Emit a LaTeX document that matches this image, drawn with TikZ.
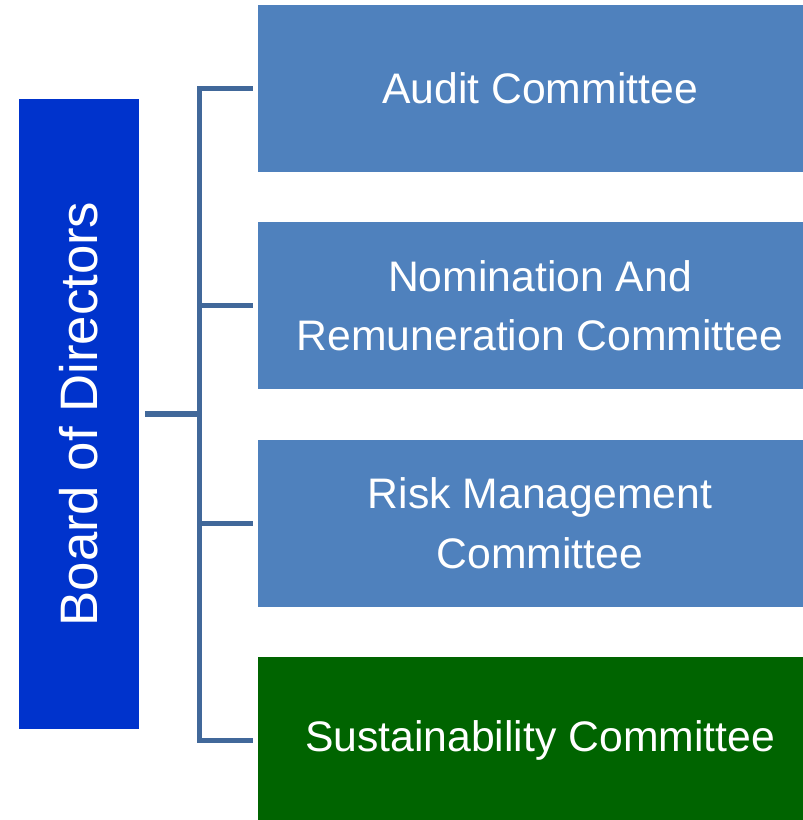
\documentclass[tikz,border=0pt]{standalone}
\usepackage{fontspec}
\setmainfont{Liberation Sans}
\usepackage{xcolor}
\usetikzlibrary{positioning, calc}
\definecolor{boardblue}{HTML}{0033CC}
\definecolor{commblue}{HTML}{4F81BD}
\definecolor{commgreen}{HTML}{006400}
\definecolor{linkblue}{HTML}{41689A}
\tikzset{
    board/.style={
        rectangle,
        fill=boardblue,
        minimum width=2.4cm,
        minimum height=12.6cm,
        inner sep=0pt,
        text=white,
        font=\fontsize{30}{36}\selectfont
    },
    committee/.style={
        rectangle,
        fill=commblue,
        minimum width=11.28cm,
        minimum height=3.34cm,
        inner sep=0pt,
        text=white,
        align=center,
        font=\fontsize{24.3}{34}\selectfont
    },
    link/.style={
        draw=linkblue,
        line width=0.105cm
    }
}

\begin{document}
\begin{tikzpicture}[node distance=0.993cm]
\useasboundingbox (0,0) rectangle (16.04,-16.4);

% Board on the left
\node[board] (board) at (1.58,-8.28) {\rotatebox{90}{Board of Directors}};

% Committees
\node[committee] (audit) at (10.8,-1.77) {Audit Committee};
\node[committee, below=of audit] (nomination) {Nomination And\\Remuneration Committee};
\node[committee, below=of nomination] (risk) {Risk Management\\Committee};
\node[committee, fill=commgreen, below=of risk] (sustain) {Sustainability Committee};

% Tree connector
\coordinate (trunk) at (3.99,0);
\draw[link] ([xshift=0.12cm]board.east) -- (trunk |- board.east);
\draw[link] ([xshift=-0.1cm]audit.west) -- (trunk |- audit.west) -- (trunk |- sustain.west) -- ([xshift=-0.1cm]sustain.west);
\draw[link] (trunk |- nomination.west) -- ([xshift=-0.1cm]nomination.west);
\draw[link] (trunk |- risk.west) -- ([xshift=-0.1cm]risk.west);

\end{tikzpicture}
\end{document}
